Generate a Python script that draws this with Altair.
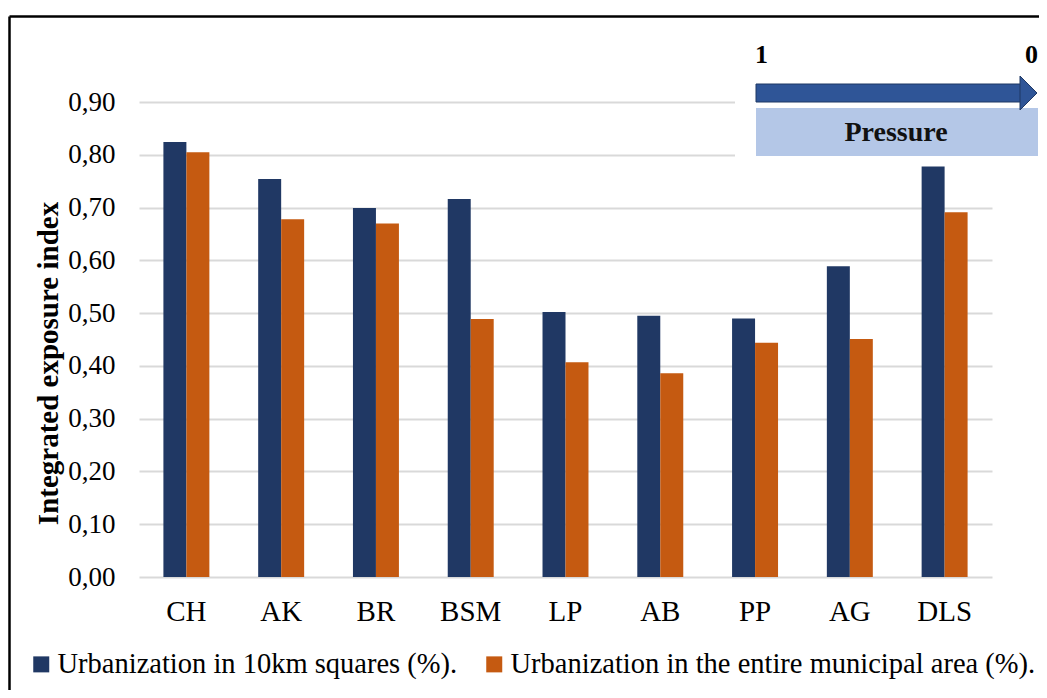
import altair as alt
import pandas as pd

categories = ["CH", "AK", "BR", "BSM", "LP", "AB", "PP", "AG", "DLS"]
squares = [0.824, 0.754, 0.699, 0.716, 0.502, 0.495, 0.490, 0.589, 0.778]
municipal = [0.805, 0.678, 0.670, 0.489, 0.407, 0.386, 0.444, 0.451, 0.691]
series_names = ["Urbanization in 10km squares (%).",
                "Urbanization in the entire municipal area (%)."]
series_colors = ["#203864", "#C55A11"]
y_ticks = [0.0, 0.1, 0.2, 0.3, 0.4, 0.5, 0.6, 0.7, 0.8, 0.9]

rows = []
for i, c in enumerate(categories):
    rows.append({"cat": c, "series": series_names[0], "value": squares[i]})
    rows.append({"cat": c, "series": series_names[1], "value": municipal[i]})
df = pd.DataFrame(rows)

FONT = "Liberation Serif"

bars = alt.Chart(df).mark_bar().encode(
    x=alt.X("cat:N", sort=categories,
            scale=alt.Scale(paddingInner=0.515, paddingOuter=0.2575),
            axis=alt.Axis(title=None, labelAngle=0, labelFont=FONT, labelFontSize=29,
                          labelColor="black", labelPadding=20, ticks=False, domain=False)),
    xOffset=alt.XOffset("series:N", sort=series_names),
    y=alt.Y("value:Q", scale=alt.Scale(domain=[0, 0.9], nice=False),
            axis=alt.Axis(values=y_ticks, format=".2f",
                          labelExpr="replace(datum.label, '.', ',')",
                          labelFont=FONT, labelFontSize=27, labelColor="black",
                          labelPadding=24, grid=True, gridColor="#D9D9D9", gridWidth=2,
                          domain=False, ticks=False,
                          title="Integrated exposure index", titleFont=FONT,
                          titleFontSize=29, titleFontWeight="bold", titleColor="black",
                          titleAngle=270, titleX=-82, titleY=261, titleAlign="center",
                          titleBaseline="alphabetic")),
    color=alt.Color("series:N", sort=series_names,
                    scale=alt.Scale(domain=series_names, range=series_colors),
                    legend=alt.Legend(orient="none", legendX=-112, legendY=548,
                                      direction="horizontal", title=None,
                                      labelFont=FONT, labelFontSize=28.5, labelColor="black",
                                      symbolType="square", symbolSize=256,
                                      symbolStrokeWidth=0, symbolOpacity=1,
                                      labelOffset=2, columnPadding=22, padding=0,
                                      labelLimit=1000)),
)

one = alt.Data(values=[{"a": 1}])

white_bg = alt.Chart(one).mark_rect(color="white").encode(
    x=alt.value(596), x2=alt.value(905), y=alt.value(-62), y2=alt.value(56))
box = alt.Chart(one).mark_rect(color="#B4C7E7").encode(
    x=alt.value(617), x2=alt.value(899), y=alt.value(6), y2=alt.value(54))
shaft = alt.Chart(one).mark_rect(color="#2F5597", stroke="#1F3864", strokeWidth=1).encode(
    x=alt.value(617), x2=alt.value(884), y=alt.value(-18), y2=alt.value(0))
head = alt.Chart(one).mark_point(shape="M-0.5,-1L0.5,0L-0.5,1Z", filled=True, size=1156,
                                 color="#2F5597", stroke="#1F3864", strokeWidth=1,
                                 opacity=1).encode(
    x=alt.value(889.5), y=alt.value(-9))
t1 = alt.Chart(one).mark_text(text="1", font=FONT, fontSize=26, fontWeight="bold",
                              align="left", baseline="alphabetic", color="black").encode(
    x=alt.value(616), y=alt.value(-39))
t0 = alt.Chart(one).mark_text(text="0", font=FONT, fontSize=26, fontWeight="bold",
                              align="left", baseline="alphabetic", color="black").encode(
    x=alt.value(886), y=alt.value(-39))
tp = alt.Chart(one).mark_text(text="Pressure", font=FONT, fontSize=28, fontWeight="bold",
                              align="center", baseline="middle", color="#111111").encode(
    x=alt.value(757), y=alt.value(31))
frame_top = alt.Chart(one).mark_rule(color="black", strokeWidth=2.5).encode(
    x=alt.value(-129.5), x2=alt.value(1000), y=alt.value(-85.5))
frame_left = alt.Chart(one).mark_rule(color="black", strokeWidth=2.5).encode(
    x=alt.value(-129.5), y=alt.value(-85.5), y2=alt.value(700))

chart = alt.layer(bars, white_bg, box, shaft, head, t1, t0, tp, frame_top, frame_left).properties(
    width=853, height=475,
    autosize=alt.AutoSizeParams(type="none"),
    padding={"left": 131, "top": 94, "right": 47, "bottom": 113},
).configure_view(strokeWidth=0).configure_legend(
    labelFont=FONT, labelFontSize=28.5, labelColor="black"
)

chart.save("out.html", embed_options={"renderer": "svg", "actions": False})
